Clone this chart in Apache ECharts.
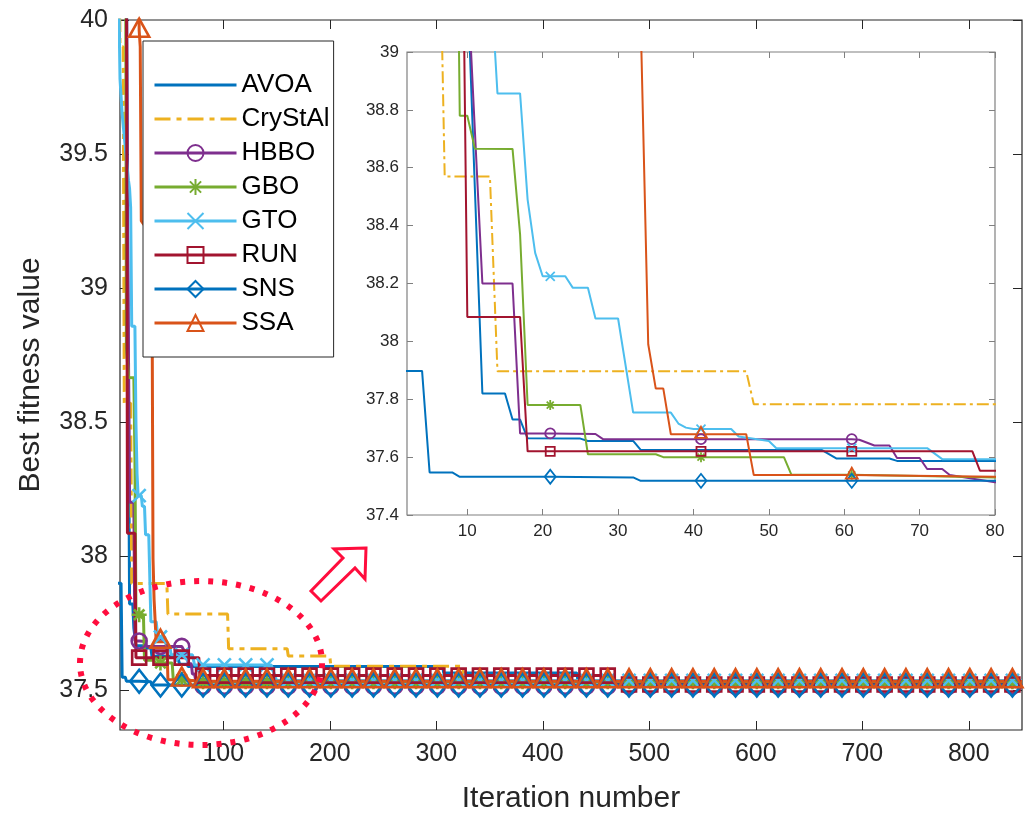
<!DOCTYPE html>
<html>
<head>
<meta charset="utf-8">
<title>Convergence curves</title>
<script src="https://cdn.jsdelivr.net/npm/echarts@6/dist/echarts.min.js"></script>
<style>
  html, body { margin: 0; padding: 0; background: #fff; }
  #chart { width: 1031px; height: 819px; }
</style>
</head>
<body>
<div id="chart"></div>
<script>
// corner points [iteration, best fitness]
const avoa = [[1, 41.5], [9, 40.2], [10, 39.25], [11, 38.53], [12, 37.82], [15, 37.82], [16, 37.73], [17, 37.73], [18, 37.665], [25, 37.664], [26, 37.656], [32, 37.656], [33, 37.625], [57, 37.625], [59, 37.595], [66, 37.595], [67, 37.587], [306, 37.587], [307, 37.563], [432, 37.563], [433, 37.535], [850, 37.535]];
const crystal = [[1, 41], [3, 39.9], [6, 39.9], [7, 38.57], [13, 38.57], [14, 37.897], [47, 37.897], [48, 37.783], [104, 37.783], [105, 37.653], [160, 37.653], [161, 37.626], [200, 37.626], [201, 37.588], [325, 37.588], [326, 37.53], [850, 37.53]];
const hbbo = [[1, 42], [9, 40.3], [10, 39.27], [11, 38.73], [12, 38.2], [16, 38.2], [17, 37.682], [27, 37.68], [28, 37.662], [62, 37.66], [64, 37.64], [66, 37.64], [67, 37.597], [70, 37.597], [71, 37.559], [73, 37.559], [74, 37.538], [80, 37.513], [850, 37.508]];
const gbo = [[1, 42], [8, 41], [9, 38.78], [10, 38.78], [11, 38.666], [16, 38.665], [17, 38.37], [18, 37.78], [25, 37.78], [26, 37.61], [35, 37.61], [36, 37.6], [52, 37.6], [53, 37.539], [70, 37.535], [80, 37.53], [850, 37.53]];
const gto = [[2, 40.3], [3, 39.78], [5, 39.65], [11, 39.4], [12, 39.37], [13, 39.3], [14, 38.857], [17, 38.857], [18, 38.49], [19, 38.306], [20, 38.225], [23, 38.225], [24, 38.185], [26, 38.185], [27, 38.079], [30, 38.079], [32, 37.754], [37, 37.754], [38, 37.716], [39, 37.702], [40, 37.697], [45, 37.697], [46, 37.671], [50, 37.656], [51, 37.631], [71, 37.631], [73, 37.593], [145, 37.593], [150, 37.535], [850, 37.535]];
const run = [[1, 42], [8, 41], [9, 40.37], [10, 38.084], [17, 38.084], [18, 37.62], [77, 37.62], [78, 37.553], [465, 37.553], [466, 37.52], [850, 37.52]];
const sns = [[1, 37.898], [4, 37.898], [5, 37.547], [8, 37.547], [9, 37.532], [32, 37.53], [33, 37.518], [850, 37.518]];
const ssa = [[1, 45], [20, 40.5], [21, 39.96], [22, 39.9], [23, 39.25], [32, 39.2], [33, 39.11], [34, 37.99], [35, 37.837], [36, 37.837], [37, 37.679], [47, 37.679], [48, 37.538], [80, 37.532], [850, 37.532]];

const seriesNames = ["AVOA", "CryStAl", "HBBO", "GBO", "GTO", "RUN", "SNS", "SSA"];
const allData = [avoa, crystal, hbbo, gbo, gto, run, sns, ssa];

// tick labels
const mainXTicks = [100, 200, 300, 400, 500, 600, 700, 800];
const mainYTicks = [37.5, 38, 38.5, 39, 39.5, 40];
const insetXTicks = [10, 20, 30, 40, 50, 60, 70, 80];
const insetYTicks = [37.4, 37.6, 37.8, 38, 38.2, 38.4, 38.6, 38.8, 39];

// a marker every 20 iterations (1, 21, 41, ...)
const markerIters = [];
for (let it = 1; it <= 850; it += 20) markerIters.push(it);

const colors = ["#0072BD", "#EDB120", "#7E2F8E", "#77AC30", "#4DBEEE", "#A2142F", "#0072BD", "#D95319"];
const asterisk = "path://M5,0L5,10M0,5L10,5M1.5,1.5L8.5,8.5M8.5,1.5L1.5,8.5";
const cross = "path://M0,0L10,10M10,0L0,10";
const symbols = ["none", "none", "circle", asterisk, cross, "rect", "diamond", "triangle"];
const mainSizes = [0, 0, 15, 15, 13, 14, [18, 23], [20, 18]];
const insetSizes = [0, 0, 10, 10, 9, 9, [11, 14], [12, 11]];
const font = "Liberation Sans, Arial, Helvetica, sans-serif";
const axisColor = "#262626";

function valueAt(pts, it) {
  let v = pts[0][1];
  for (const p of pts) {
    if (p[0] <= it) v = p[1];
    else break;
  }
  return v;
}

function buildSeries(idx, inset) {
  const pts = allData[idx];
  const sym = symbols[idx];
  const data = pts.map(p => ({ value: [p[0], p[1]], symbol: "none" }));
  if (sym !== "none") {
    markerIters.forEach(it => {
      const hit = data.find(d => d.value[0] === it);
      if (hit) delete hit.symbol;
      else data.push({ value: [it, valueAt(pts, it)] });
    });
    data.sort((a, b) => a.value[0] - b.value[0]);
  }
  const noMark = sym === "none";
  // matlab puts the triangle's centroid on the point
  const offset = sym === "triangle" ? [0, inset ? -2 : -3] : [0, 0];
  return {
    name: seriesNames[idx],
    type: "line",
    xAxisIndex: inset ? 2 : 0,
    yAxisIndex: inset ? 2 : 0,
    data: data,
    symbol: sym,
    symbolSize: inset ? insetSizes[idx] : mainSizes[idx],
    symbolOffset: offset,
    showSymbol: true,
    showAllSymbol: true,
    clip: true,
    silent: true,
    animation: false,
    lineStyle: {
      color: colors[idx],
      width: inset ? 2 : 3,
      type: idx === 1 ? (inset ? [12, 4, 3, 4] : [16, 6, 5, 6]) : "solid"
    },
    itemStyle: {
      color: "rgba(0,0,0,0)",
      borderColor: noMark ? "rgba(0,0,0,0)" : colors[idx],
      borderWidth: noMark ? 0 : (inset ? 1.8 : 2.6)
    },
    emphasis: { disabled: true }
  };
}

function valueAxis(grid, min, max, ticks, pos, opts) {
  return {
    type: "value",
    gridIndex: grid,
    position: pos,
    min: min,
    max: max,
    axisLine: { show: false },
    splitLine: { show: false },
    axisTick: {
      show: true, inside: true, length: opts.tickLen,
      customValues: ticks,
      lineStyle: { color: opts.color, width: 1 }
    },
    axisLabel: {
      show: opts.labels, customValues: ticks, margin: opts.margin,
      fontSize: opts.fontSize, fontFamily: font, color: axisColor
    }
  };
}

const chart = echarts.init(document.getElementById("chart"), null, { renderer: "canvas" });

const series = [];
for (let i = 0; i < 8; i++) series.push(buildSeries(i, false));
for (let i = 0; i < 8; i++) series.push(buildSeries(i, true));

const mainX = valueAxis(0, 3, 850, mainXTicks, "bottom", { tickLen: 9, color: axisColor, labels: true, margin: 12, fontSize: 25 });
mainX.name = "Iteration number";
mainX.nameLocation = "middle";
mainX.nameGap = 54;
mainX.nameTextStyle = { fontSize: 30, fontFamily: font, color: axisColor };

const mainY = valueAxis(0, 37.35, 40, mainYTicks, "left", { tickLen: 9, color: axisColor, labels: true, margin: 12, fontSize: 25 });
mainY.name = "Best fitness value";
mainY.nameLocation = "middle";
mainY.nameGap = 74;
mainY.nameTextStyle = { fontSize: 30, fontFamily: font, color: axisColor };

chart.setOption({
  backgroundColor: "#fff",
  animation: false,
  grid: [
    { left: 120, top: 20, width: 902, height: 713, show: true, borderColor: axisColor, borderWidth: 1.2, backgroundColor: "#fff" },
    { left: 407, top: 52, width: 588, height: 463, show: true, borderColor: "#808080", borderWidth: 1.2, backgroundColor: "#fff" }
  ],
  xAxis: [
    mainX,
    valueAxis(0, 3, 850, mainXTicks, "top", { tickLen: 9, color: axisColor, labels: false }),
    valueAxis(1, 2, 80, insetXTicks, "bottom", { tickLen: 6, color: "#808080", labels: true, margin: 8, fontSize: 17 }),
    valueAxis(1, 2, 80, insetXTicks, "top", { tickLen: 6, color: "#808080", labels: false })
  ],
  yAxis: [
    mainY,
    valueAxis(0, 37.35, 40, mainYTicks, "right", { tickLen: 9, color: axisColor, labels: false }),
    valueAxis(1, 37.4, 39, insetYTicks, "left", { tickLen: 6, color: "#808080", labels: true, margin: 8, fontSize: 17 }),
    valueAxis(1, 37.4, 39, insetYTicks, "right", { tickLen: 6, color: "#808080", labels: false })
  ],
  legend: {
    orient: "vertical",
    left: 143,
    top: 41,
    padding: [31, 4, 21, 10],
    itemWidth: 82,
    itemHeight: 20,
    itemGap: 8,
    backgroundColor: "#fff",
    borderColor: axisColor,
    borderWidth: 1,
    borderRadius: 0,
    selectedMode: false,
    lineStyle: { width: 3 },
    textStyle: { fontSize: 26, fontFamily: font, color: "#000" },
    data: seriesNames
  },
  graphic: [
    {
      type: "ellipse",
      z: 100,
      silent: true,
      shape: { cx: 201, cy: 663, rx: 121, ry: 82 },
      style: { fill: "none", stroke: "#ff0d3d", lineWidth: 6, lineDash: [5, 9] }
    },
    {
      type: "polygon",
      z: 100,
      silent: true,
      shape: { points: [[366, 548], [334, 549], [343, 558], [311, 591], [321, 601], [355, 568], [365, 579]] },
      style: { fill: "#fff", stroke: "#ff0d3d", lineWidth: 3, lineJoin: "miter" }
    }
  ],
  series: series
});
</script>
</body>
</html>
